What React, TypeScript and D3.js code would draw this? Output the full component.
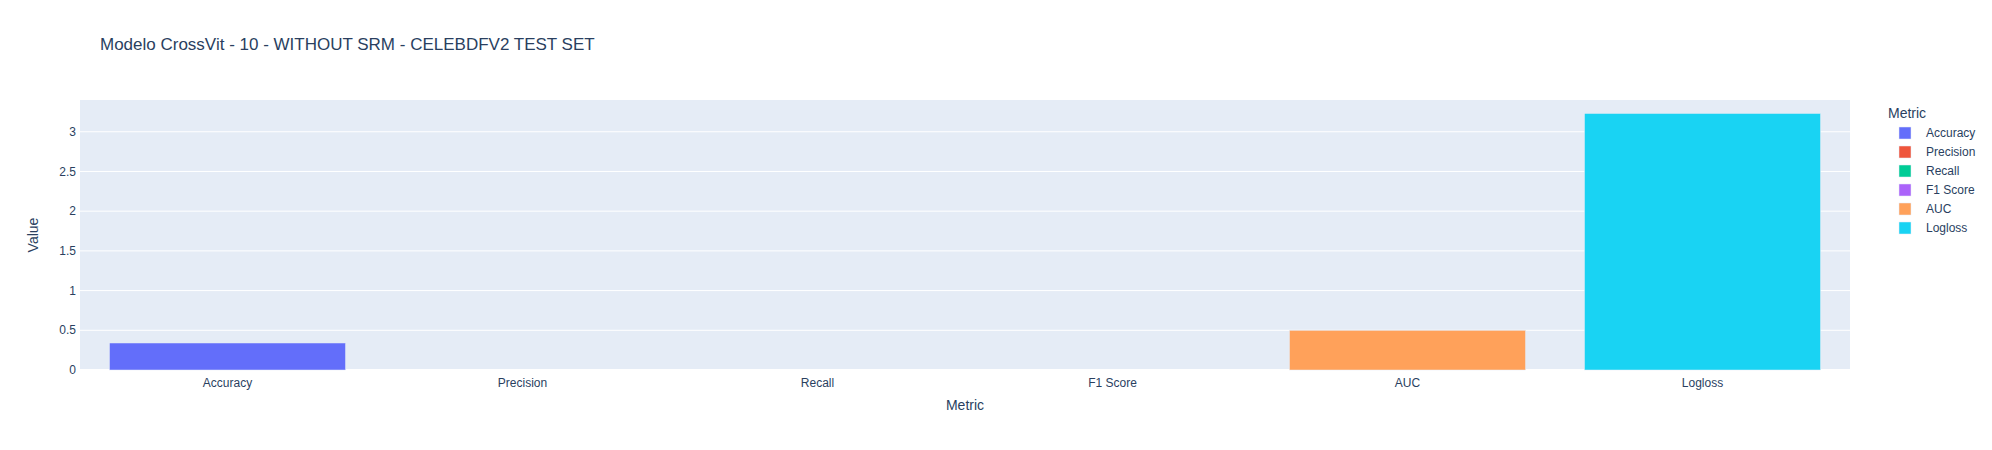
import React from "react";
import * as d3 from "d3";

const metrics = ["Accuracy", "Precision", "Recall", "F1 Score", "AUC", "Logloss"];
const values = [0.34, 0, 0, 0, 0.5, 3.23];
const colors = ["#636efa", "#EF553B", "#00cc96", "#ab63fa", "#FFA15A", "#19d3f3"];
const yTicks = [0, 0.5, 1, 1.5, 2, 2.5, 3];

const W = 1992;
const H = 450;
const margin = { top: 100, right: 142, bottom: 80, left: 80 };
const font = "'Liberation Sans', Arial, sans-serif";
const textColor = "#2a3f5f";

const App = () => {
  const plotW = W - margin.left - margin.right;
  const plotH = H - margin.top - margin.bottom;

  const x = d3.scaleBand().domain(metrics).range([0, plotW]).paddingInner(0.2).paddingOuter(0.1);
  const yMax = d3.max(values) * 1.0526;
  const y = d3.scaleLinear().domain([0, yMax]).range([plotH, 0]);

  return (
    <svg width={W} height={H} style={{ position: "absolute", left: 0, top: 0, fontFamily: font }}>
      <rect width={W} height={H} fill="#fff" />
      <text x={100} y={50} fontSize={17} fill={textColor}>
        Modelo CrossVit - 10 - WITHOUT SRM - CELEBDFV2 TEST SET
      </text>
      <g transform={`translate(${margin.left},${margin.top})`}>
        <rect width={plotW} height={plotH} fill="#E5ECF6" />
        {/* grid */}
        {yTicks.map((t) => (
          <line key={t} x1={0} x2={plotW} y1={y(t)} y2={y(t)} stroke="#fff" strokeWidth={t === 0 ? 2 : 1} />
        ))}
        {/* bars */}
        {metrics.map((m, i) => (
          <rect
            key={m}
            x={x(m)}
            width={x.bandwidth()}
            y={y(values[i])}
            height={plotH - y(values[i])}
            fill={colors[i]}
            stroke="#E5ECF6"
            strokeWidth={0.5}
          />
        ))}
        {/* y tick labels */}
        {yTicks.map((t) => (
          <text key={t} x={-4} y={y(t)} dy="0.35em" textAnchor="end" fontSize={12} fill={textColor}>
            {t}
          </text>
        ))}
        {/* x tick labels */}
        {metrics.map((m) => (
          <text key={m} x={x(m) + x.bandwidth() / 2} y={plotH + 17} textAnchor="middle" fontSize={12} fill={textColor}>
            {m}
          </text>
        ))}
        <text x={plotW / 2} y={plotH + 40} textAnchor="middle" fontSize={14} fill={textColor}>
          Metric
        </text>
        <text
          transform={`translate(${33 - margin.left},${plotH / 2}) rotate(-90)`}
          dy="0.35em"
          textAnchor="middle"
          fontSize={14}
          fill={textColor}
        >
          Value
        </text>
      </g>
      {/* legend */}
      <g transform="translate(1888,0)">
        <text x={0} y={113} dy="0.35em" fontSize={14} fill={textColor}>
          Metric
        </text>
        {metrics.map((m, i) => (
          <g key={m} transform={`translate(0,${133 + i * 19})`}>
            <rect x={11} y={-6} width={12} height={12} fill={colors[i]} stroke="#E5ECF6" strokeWidth={0.5} />
            <text x={38} y={0} dy="0.35em" fontSize={12} fill={textColor}>
              {m}
            </text>
          </g>
        ))}
      </g>
    </svg>
  );
};

export default App;
